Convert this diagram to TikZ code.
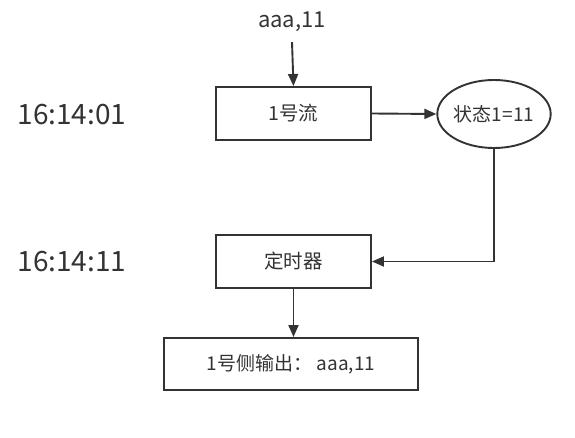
\documentclass[tikz,border=0pt]{standalone}
\usepackage{fontspec}
\setmainfont{Noto Sans CJK SC}
\usetikzlibrary{shapes.geometric,arrows.meta}
\definecolor{ink}{HTML}{333333}
\tikzset{
  box/.style={draw=ink, line width=1.9pt, minimum width=155pt, minimum height=53pt,
    text=ink, font=\fontsize{19.5}{19.5}\selectfont},
  stateoval/.style={draw=ink, line width=1.9pt, ellipse, minimum width=107pt,
    minimum height=68pt, inner sep=0pt, text=ink, font=\fontsize{19}{19}\selectfont},
  timelabel/.style={text=ink, font=\fontsize{28}{28}\selectfont},
  flowarrow/.style={draw=ink, line width=1.9pt, -{Triangle[length=12pt,width=10pt]}}
}
\begin{document}
\begin{tikzpicture}[x=1pt,y=-1pt]
    \useasboundingbox (0,0) rectangle (575,438);

    % Times
    \node[timelabel] (t1) at (72,115) {16:14:01};
    \node[timelabel] (t2) at (72,262) {16:14:11};

    % Input
    \node[text=ink, font=\fontsize{22}{22}\selectfont, inner sep=2pt] (input) at (292,22) {aaa,11};

    % Boxes
    \node[box] (flow) at (293.5,113.5) {1号流};
    \node[stateoval] (state) at (494,114) {状态1=11};
    \node[box] (timer) at (293.5,261.5) {定时器};
    \node[box, minimum width=254pt, minimum height=52pt,
      font=\fontsize{19}{19}\selectfont] (output) at (291,364) {1号侧输出： aaa,11};

    % Connectors
    \draw[flowarrow] (input.south) ++(0,8) -- (flow.north);
    \draw[flowarrow] (flow.east) -- (state.west);
    \draw[flowarrow] (state.south) |- (timer.east);
    \draw[flowarrow] (timer.south) -- (output.north -| timer.south);
\end{tikzpicture}
\end{document}
